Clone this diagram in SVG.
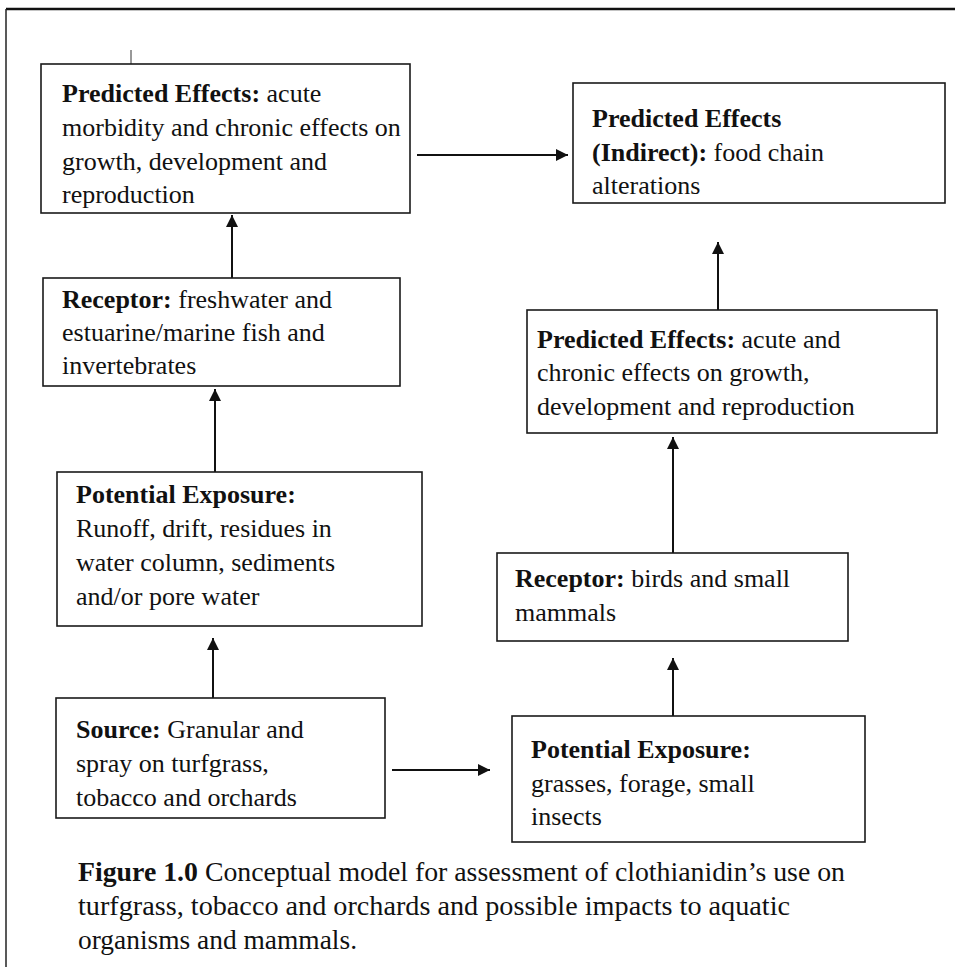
<svg xmlns="http://www.w3.org/2000/svg" width="955" height="967" viewBox="0 0 955 967">
<style>
  .box{fill:#fff;stroke:#1a1a1a;stroke-width:1.6}
  text{font-family:"Liberation Serif","Times New Roman",serif;font-size:26px;fill:#111}
  .b{font-weight:bold}
  .cap{font-size:27.5px}
  .ln{stroke:#111;stroke-width:2;fill:none}
</style>
<defs>
  <marker id="ah" viewBox="0 0 10 10" refX="10" refY="5" markerWidth="6.5" markerHeight="6" markerUnits="strokeWidth" orient="auto">
    <path d="M0,0 L10,5 L0,10 z" fill="#111"/>
  </marker>
</defs>
<rect width="955" height="967" fill="#fff"/>
<g id="frame">
  <line x1="6" y1="9" x2="955" y2="9" stroke="#111" stroke-width="2.5"/>
  <line x1="6" y1="9" x2="6" y2="967" stroke="#222" stroke-width="1.5"/>
  <line x1="131" y1="50" x2="131" y2="64" stroke="#333" stroke-width="1"/>
</g>
<g id="connectors">
  <line class="ln" x1="417" y1="155" x2="568" y2="155" marker-end="url(#ah)"/>
  <line class="ln" x1="232" y1="278" x2="232" y2="215" marker-end="url(#ah)"/>
  <line class="ln" x1="215" y1="472" x2="215" y2="389" marker-end="url(#ah)"/>
  <line class="ln" x1="213" y1="698" x2="213" y2="638" marker-end="url(#ah)"/>
  <line class="ln" x1="392" y1="770" x2="490" y2="770" marker-end="url(#ah)"/>
  <line class="ln" x1="673" y1="716" x2="673" y2="658" marker-end="url(#ah)"/>
  <line class="ln" x1="673" y1="553" x2="673" y2="437" marker-end="url(#ah)"/>
  <line class="ln" x1="718" y1="310" x2="718" y2="242" marker-end="url(#ah)"/>
</g>
<g id="predicted-effects-aquatic">
  <rect class="box" x="41" y="64" width="369" height="149"/>
  <text x="62" y="102"><tspan class="b">Predicted Effects:</tspan> acute</text>
  <text x="62" y="136">morbidity and chronic effects on</text>
  <text x="62" y="170">growth, development and</text>
  <text x="62" y="203">reproduction</text>
</g>
<g id="predicted-effects-indirect">
  <rect class="box" x="573" y="83" width="372" height="120"/>
  <text x="592" y="127" class="b">Predicted Effects</text>
  <text x="592" y="161"><tspan class="b">(Indirect):</tspan> food chain</text>
  <text x="592" y="194">alterations</text>
</g>
<g id="receptor-aquatic">
  <rect class="box" x="43" y="278" width="357" height="108"/>
  <text x="62" y="308"><tspan class="b">Receptor:</tspan> freshwater and</text>
  <text x="62" y="341">estuarine/marine fish and</text>
  <text x="62" y="374">invertebrates</text>
</g>
<g id="predicted-effects-terrestrial">
  <rect class="box" x="527" y="310" width="410" height="123"/>
  <text x="537" y="348"><tspan class="b">Predicted Effects:</tspan> acute and</text>
  <text x="537" y="381">chronic effects on growth,</text>
  <text x="537" y="415">development and reproduction</text>
</g>
<g id="exposure-aquatic">
  <rect class="box" x="57" y="472" width="365" height="154"/>
  <text x="76" y="503" class="b">Potential Exposure:</text>
  <text x="76" y="537">Runoff, drift, residues in</text>
  <text x="76" y="571">water column, sediments</text>
  <text x="76" y="605">and/or pore water</text>
</g>
<g id="receptor-terrestrial">
  <rect class="box" x="497" y="553" width="351" height="88"/>
  <text x="515" y="587"><tspan class="b">Receptor:</tspan> birds and small</text>
  <text x="515" y="621">mammals</text>
</g>
<g id="source">
  <rect class="box" x="56" y="698" width="329" height="120"/>
  <text x="76" y="738"><tspan class="b">Source:</tspan> Granular and</text>
  <text x="76" y="772">spray on turfgrass,</text>
  <text x="76" y="806">tobacco and orchards</text>
</g>
<g id="exposure-terrestrial">
  <rect class="box" x="512" y="716" width="353" height="126"/>
  <text x="531" y="758" class="b">Potential Exposure:</text>
  <text x="531" y="792">grasses, forage, small</text>
  <text x="531" y="825">insects</text>
</g>
<g id="caption">
  <text class="cap" x="78" y="881" textLength="767" lengthAdjust="spacingAndGlyphs"><tspan class="b">Figure 1.0</tspan> Conceptual model for assessment of clothianidin’s use on</text>
  <text class="cap" x="78" y="915" textLength="712" lengthAdjust="spacingAndGlyphs">turfgrass, tobacco and orchards and possible impacts to aquatic</text>
  <text class="cap" x="78" y="949" textLength="279" lengthAdjust="spacingAndGlyphs">organisms and mammals.</text>
</g>
</svg>
